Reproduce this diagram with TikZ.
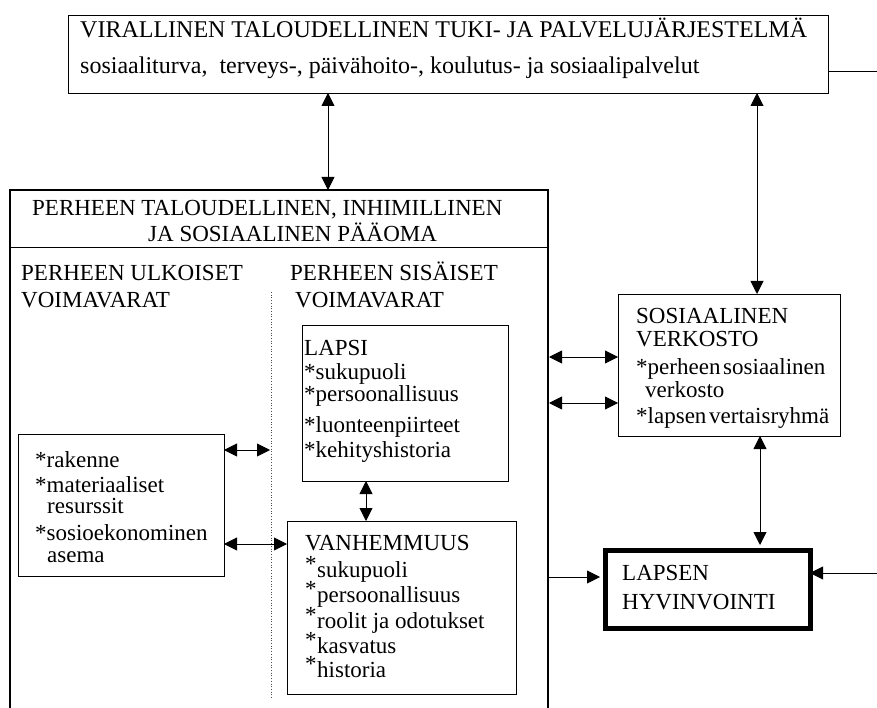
\documentclass[tikz,border=0pt]{standalone}
\usepackage{fontspec}
\setmainfont{Liberation Serif}
\usetikzlibrary{arrows.meta}
\begin{document}
\begin{tikzpicture}[x=1pt,y=-1pt,
  box/.style={draw,line width=0.9pt,inner sep=0pt,anchor=north west},
  txt/.style={inner sep=0pt,anchor=base west,font=\fontsize{23}{25}\selectfont},
  btxt/.style={txt,font=\fontsize{23}{25}\selectfont},
  tip/.tip={Triangle[length=13pt,width=13pt]},
  arr/.style={line width=0.9pt,tip-tip},
  sarr/.style={line width=0.9pt,-tip}]
\useasboundingbox (0,0) rectangle (877,708);
% top box
\node[box,minimum width=760pt,minimum height=78pt] (top) at (68,15) {};
\node[txt,font=\fontsize{24}{26}\selectfont] (t1) at (80,38) {VIRALLINEN TALOUDELLINEN TUKI- JA PALVELUJÄRJESTELMÄ};
\node[txt,font=\fontsize{24}{26}\selectfont] (t2) at (80,74) {sosiaaliturva,\ \ terveys-, päivähoito-, koulutus- ja sosiaalipalvelut};
% family box
\draw[line width=2.2pt] (10,712) -- (10,190) -- (548,190) -- (548,712);
\node[inner sep=0pt,minimum width=538pt,minimum height=57pt,anchor=north west] (fam) at (10,190) {};
\draw[line width=0.9pt] (10,247) -- (548,247);
\node[txt] (h1) at (32,216) {PERHEEN TALOUDELLINEN, INHIMILLINEN};
\node[txt] (h2) at (148,242) {JA SOSIAALINEN PÄÄOMA};
\node[txt] (u1) at (21,280) {PERHEEN ULKOISET};
\node[txt] (u2) at (21,307) {VOIMAVARAT};
\node[txt] (s1) at (290,280) {PERHEEN SISÄISET};
\node[txt] (s2) at (295,307) {VOIMAVARAT};
\coordinate (dtop) at (271,292);
\coordinate (dbot) at (271,698);
\draw[dotted,line width=0.7pt,black!70] (dtop) -- (dbot);
% LAPSI box
\node[box,minimum width=206pt,minimum height=156pt] (lapsi) at (302,325) {};
\node[btxt] (l0) at (304,355) {LAPSI};
\node[btxt] (l1) at (304,379) {*sukupuoli};
\node[btxt] (l2) at (304,401) {*persoonallisuus};
\node[btxt] (l3) at (304,432) {*luonteenpiirteet};
\node[btxt] (l4) at (304,457) {*kehityshistoria};
% external box
\node[box,minimum width=206pt,minimum height=142pt] (ext) at (18,434) {};
\node[btxt] (e1) at (35,467) {*rakenne};
\node[btxt] (e2) at (35,492) {*materiaaliset};
\node[btxt] (e3) at (47,513) {resurssit};
\node[btxt] (e4) at (35,540) {*sosioekonominen};
\node[btxt] (e5) at (47,562) {asema};
% VANHEMMUUS box
\node[box,minimum width=229pt,minimum height=173pt] (vanh) at (287,521) {};
\node[btxt] (v0) at (305,550) {VANHEMMUUS};
\node[btxt] (va1) at (305,571) {*};
\node[btxt] (v1) at (317,577) {sukupuoli};
\node[btxt] (va2) at (305,596) {*};
\node[btxt] (v2) at (317,602) {persoonallisuus};
\node[btxt] (va3) at (305,622) {*};
\node[btxt] (v3) at (317,628) {roolit ja odotukset};
\node[btxt] (va4) at (305,647) {*};
\node[btxt] (v4) at (317,653) {kasvatus};
\node[btxt] (va5) at (305,671) {*};
\node[btxt] (v5) at (317,677) {historia};
% social network box
\node[box,minimum width=222pt,minimum height=142pt] (sos) at (618,294) {};
\node[btxt] (so1) at (636,323) {SOSIAALINEN};
\node[btxt] (so2) at (636,346) {VERKOSTO};
\node[btxt] (so3) at (636,374) {*perheen\hspace{0.12em}sosiaalinen};
\node[btxt] (so4) at (645,397) {verkosto};
\node[btxt] (so5) at (636,423) {*lapsen\hspace{0.12em}vertaisryhmä};
% wellbeing box
\node[box,line width=5pt,minimum width=205pt,minimum height=78pt] (hyv) at (602.5,547.5) {};
\node[btxt] (hy1) at (622,580) {LAPSEN};
\node[btxt] (hy2) at (622,609) {HYVINVOINTI};
% connectors
\draw[arr] (328,93) -- (328,190);
\draw[arr] (757,93) -- (757,294);
\draw[arr] (549,357) -- (618,357);
\draw[arr] (549,403) -- (618,403);
\draw[arr] (760,436) -- (760,545);
\draw[sarr] (549,577) -- (600,577);
\coordinate (rin) at (877,573);
\draw[sarr] (rin) -- (810,573);
\coordinate (rout) at (877,71);
\draw[line width=0.9pt] (828,71) -- (rout);
\draw[arr] (224,450) -- (270,450);
\draw[arr] (224,544) -- (287,544);
\draw[arr] (366,481) -- (366,521);
\end{tikzpicture}
\end{document}
